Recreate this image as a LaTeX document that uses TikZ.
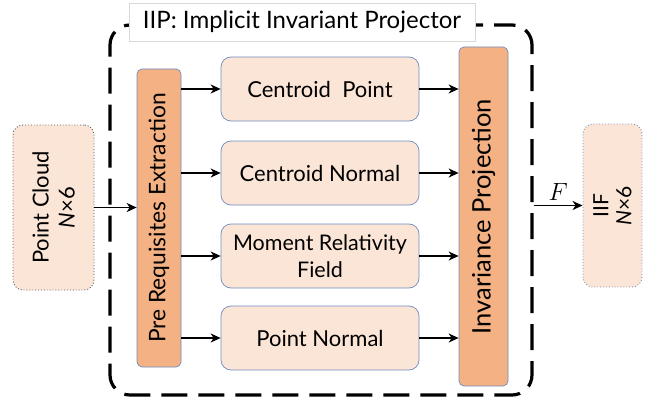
\documentclass[tikz,border=0pt]{standalone}
\usepackage{amsmath}
\usepackage{fontspec}
\setmainfont{Lato}
\usetikzlibrary{arrows.meta}
\definecolor{peach}{HTML}{FBE5D6}
\definecolor{orng}{HTML}{F4B183}
\definecolor{bordb}{HTML}{6F8DC0}
\definecolor{titleg}{HTML}{D9D9D9}
\definecolor{dotg}{HTML}{555555}
\definecolor{dotb}{HTML}{7F8FA9}
\begin{document}
\begin{tikzpicture}[x=1pt,y=-1pt,
  box/.style={draw=bordb, fill=peach, rounded corners=10pt, line width=0.7pt, inner sep=0pt, minimum width=198pt, minimum height=64pt},
  bar/.style={draw=bordb, fill=orng, rounded corners=5pt, line width=0.7pt, inner sep=0pt},
  io/.style={fill=peach, rounded corners=10pt, line width=0.9pt, dotted, inner sep=0pt},
  arr/.style={-{Stealth[length=10pt,width=9pt,inset=3pt]}, line width=1.6pt},
  lbl/.style={font=\fontsize{22}{26}\selectfont, align=center, inner sep=0pt}]
\useasboundingbox (0,0) rectangle (645,404);
% outer dashed frame
\node[draw, line width=3.2pt, dash pattern=on 26pt off 11pt, dash phase=8pt, rounded corners=20pt,
      minimum width=422pt, minimum height=370pt, inner sep=0pt] (outer) at (321,210) {};
% title
\node[draw=titleg, fill=white, line width=0.6pt, minimum width=346pt, minimum height=38pt,
      inner sep=0pt, font=\fontsize{24}{28}\selectfont] (title) at (302,22) {IIP: Implicit Invariant Projector};
% prerequisite bar
\node[bar, minimum width=44pt, minimum height=298pt] (pre) at (159,218) {};
\node[lbl, rotate=90, font=\fontsize{22.8}{26}\selectfont] (pret) at (pre) {Pre Requisites Extraction};
% middle boxes
\node[box] (cp) at (320,89) {};
\node[lbl] (cpt) at (cp) {Centroid\ \ Point};
\node[box] (cn) at (320,173) {};
\node[lbl] (cnt) at (cn) {Centroid Normal};
\node[box] (mr) at (320,256) {};
\node[lbl, font=\fontsize{21.5}{27}\selectfont] (mrt) at (mr) {Moment Relativity\\Field};
\node[box] (pn) at (320,338) {};
\node[lbl] (pnt) at (pn) {Point Normal};
% invariance bar
\node[bar, minimum width=49pt, minimum height=339pt] (inv) at (483.5,216.5) {};
\node[lbl, rotate=90, font=\fontsize{25.5}{28}\selectfont] (invt) at (inv) {Invariance Projection};
% input / output
\node[io, draw=dotg, minimum width=81pt, minimum height=165pt] (pc) at (53.5,207.5) {};
\node[lbl, rotate=90, font=\fontsize{22}{26}\selectfont] (pct) at (pc) {Point Cloud\\\textit{N}×6};
\node[io, draw=dotb, minimum width=59pt, minimum height=163pt] (iif) at (612.5,205.5) {};
\node[lbl, rotate=90, font=\fontsize{21}{23}\selectfont] (iift) at (iif) {IIF\\\textit{N}×6};
% connectors
\draw[arr] (pc.east) -- (pc.east -| pre.west);
\foreach \n in {cp,cn,mr,pn}{
  \draw[arr] (\n.west -| pre.east) -- (\n.west);
  \draw[arr] (\n.east) -- (\n.east -| inv.west);
}
\coordinate (fs) at (outer.east |- iif.west);
\draw[arr] (fs) -- node[above=1pt, font=\fontsize{25}{25}\selectfont] (flab) {$F$} (iif.west);
\end{tikzpicture}
\end{document}
